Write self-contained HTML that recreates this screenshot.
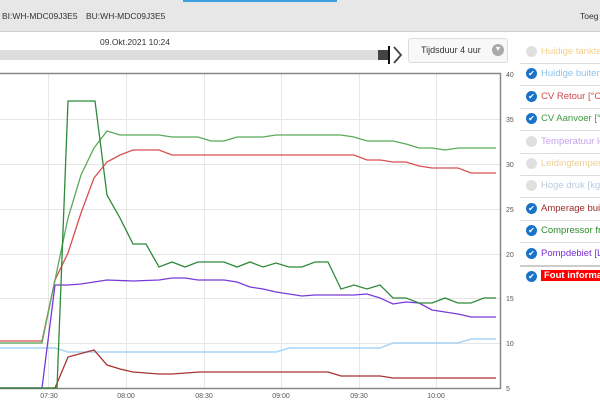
<!DOCTYPE html>
<html><head><meta charset="utf-8"><style>
body{margin:0;width:600px;height:400px;overflow:hidden;background:#fff;font-family:"Liberation Sans",sans-serif;position:relative}
.hdr{position:absolute;left:0;top:0;width:600px;height:31px;background:#e7e7e7;border-bottom:1px solid #d0d0d0}
.hdr span{position:absolute;top:11px;font-size:8.5px;color:#333}
.leg{position:absolute;left:520px;width:80px;height:22px;border-bottom:1px solid #ddd;font-size:9.5px;white-space:nowrap;overflow:hidden}
.leg i{position:absolute;left:6px;top:5px;width:11px;height:11px;border-radius:50%;background:#1a73c7;color:#fff;font-size:8px;line-height:11px;text-align:center;font-style:normal}
.leg i.off{background:#e0e0e0}
.leg b{position:absolute;left:21px;top:5px;font-weight:normal}
</style></head><body>
<div class="hdr"><span style="left:2px">BI:WH-MDC09J3E5</span><span style="left:86px">BU:WH-MDC09J3E5</span><span style="left:580px">Toeg</span></div>
<div style="position:absolute;left:183px;top:0;width:154px;height:2px;background:#3aa0e0"></div>
<div style="position:absolute;left:100px;top:37px;font-size:8.5px;color:#333">09.Okt.2021 10:24</div>
<div style="position:absolute;left:0;top:50px;width:378px;height:10px;background:#ddd"></div>
<div style="position:absolute;left:378px;top:50px;width:10px;height:10px;background:#444"></div>
<div style="position:absolute;left:388px;top:46px;width:2px;height:18px;background:#111"></div>
<svg style="position:absolute;left:392px;top:46px" width="12" height="18"><path d="M2 1 L9 9 L2 17" fill="none" stroke="#444" stroke-width="1.8"/></svg>
<div style="position:absolute;left:408px;top:38px;width:98px;height:23px;border:1px solid #ddd;border-radius:3px;background:#f8f8f8;font-size:9px;color:#333"><span style="position:absolute;left:12px;top:6px">Tijdsduur 4 uur</span><span style="position:absolute;left:83px;top:5px;width:12px;height:12px;border-radius:50%;background:#aaa;color:#fff;font-size:7px;line-height:12px;text-align:center">▼</span></div>
<div class="leg" style="top:41px"><i class="off"></i><b style="color:#f5d08a">Huidige tanktemp</b></div>
<div class="leg" style="top:63px"><i>✔</i><b style="color:#8cc4f0">Huidige buitentemp</b></div>
<div class="leg" style="top:86px"><i>✔</i><b style="color:#d04848">CV Retour [°C]</b></div>
<div class="leg" style="top:108px"><i>✔</i><b style="color:#3e9a3e">CV Aanvoer [°C]</b></div>
<div class="leg" style="top:131px"><i class="off"></i><b style="color:#c9a0f0">Temperatuur leiding</b></div>
<div class="leg" style="top:153px"><i class="off"></i><b style="color:#ecd09a">Leidingtemperatuur</b></div>
<div class="leg" style="top:175px"><i class="off"></i><b style="color:#b8cce0">Hoge druk [kgf]</b></div>
<div class="leg" style="top:198px"><i>✔</i><b style="color:#a02a2a">Amperage buiten</b></div>
<div class="leg" style="top:220px"><i>✔</i><b style="color:#2e8a2e">Compressor freq</b></div>
<div class="leg" style="top:243px;border-bottom:2px solid #ccc"><i>✔</i><b style="color:#7a2ed0">Pompdebiet [L]</b></div>
<div class="leg" style="top:266px;border:none"><i>✔</i><b style="background:#f00;color:#fff;font-weight:bold;padding:0 3px;top:4px">Fout informatie</b></div>
<svg style="position:absolute;left:0;top:0" width="520" height="400" font-family="Liberation Sans" font-size="7" fill="#555">
<g stroke="#e6e6e6" stroke-width="1">
<line x1="0" y1="119.5" x2="500" y2="119.5"/><line x1="0" y1="164.5" x2="500" y2="164.5"/><line x1="0" y1="209.5" x2="500" y2="209.5"/><line x1="0" y1="254.5" x2="500" y2="254.5"/><line x1="0" y1="298.5" x2="500" y2="298.5"/><line x1="0" y1="343.5" x2="500" y2="343.5"/>
<line x1="48.5" y1="73" x2="48.5" y2="388"/><line x1="126.5" y1="73" x2="126.5" y2="388"/><line x1="204.5" y1="73" x2="204.5" y2="388"/><line x1="281.5" y1="73" x2="281.5" y2="388"/><line x1="359.5" y1="73" x2="359.5" y2="388"/><line x1="436.5" y1="73" x2="436.5" y2="388"/>
</g>
<path d="M0 73.5 H500.5 V388.5 H0" fill="none" stroke="#888" stroke-width="1.5"/>
<g text-anchor="start"><text x="506" y="77">40</text><text x="506" y="122">35</text><text x="506" y="167">30</text><text x="506" y="212">25</text><text x="506" y="257">20</text><text x="506" y="301">15</text><text x="506" y="346">10</text><text x="506" y="391">5</text></g>
<g text-anchor="middle"><text x="49" y="398">07:30</text><text x="126" y="398">08:00</text><text x="204" y="398">08:30</text><text x="281" y="398">09:00</text><text x="359" y="398">09:30</text><text x="436" y="398">10:00</text></g>
<g fill="none" stroke-width="1.3">
<polyline stroke="#a8d4f5" stroke-width="1.5" points="0,348 55,348 68,352 276,352 289,348 380,348 393,343 458,343 471,339 496,339"/>
<polyline stroke="#a83232" points="0,388 55,388 68,357 94,350 107,365 120,369 133,372 159,374 172,374 200,372 328,372 341,376 380,376 393,378 496,378"/>
<polyline stroke="#7a3ad8" points="0,388 42,388 55,285 68,285 81,284 94,282 107,280 133,281 159,280 172,278 185,278 198,280 224,280 237,282 250,287 263,289 276,292 289,294 302,296 315,295 354,295 367,294 380,298 393,304 406,302 419,303 432,310 445,312 458,314 471,317 496,317"/>
<polyline stroke="#d85050" points="0,341 42,341 55,280 68,253 81,213 94,178 107,162 120,155 133,150 159,150 172,155 354,155 367,160 380,160 393,162 406,162 419,166 432,168 458,168 471,173 496,173"/>
<polyline stroke="#5aaa5a" points="0,343 42,343 55,280 68,218 81,175 94,148 107,131 120,135 159,135 172,137 198,137 211,141 224,141 237,137 263,137 276,135 341,135 354,137 367,141 393,141 406,144 419,148 432,148 445,150 458,148 496,148"/>
<polyline stroke="#2e8a3a" points="0,388 57,388 68,101 95,101 107,195 120,218 133,244 146,244 159,267 172,262 185,267 198,262 224,262 237,267 250,262 263,267 276,263 289,267 302,267 315,262 328,262 341,289 354,285 367,289 380,285 393,298 406,298 419,303 432,303 445,298 458,303 471,303 484,298 496,298"/>
</g>
</svg>
</body></html>
